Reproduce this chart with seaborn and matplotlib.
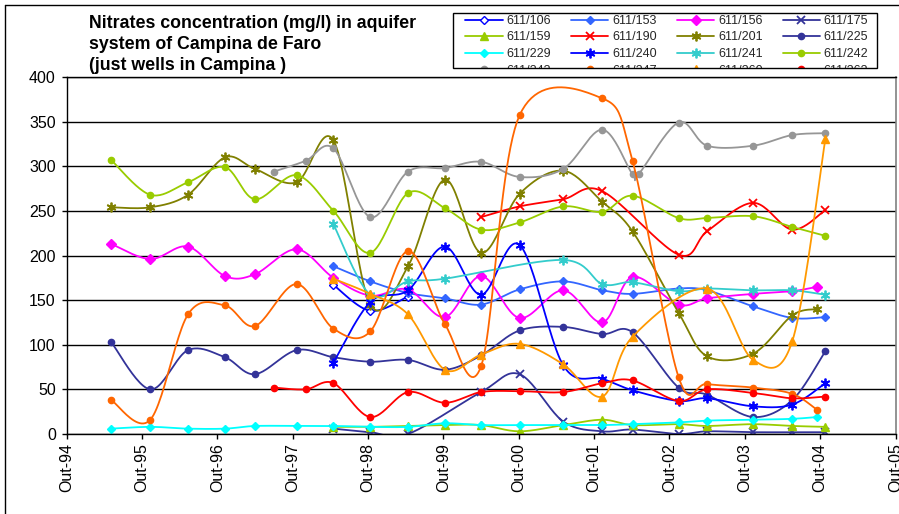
import numpy as np
import matplotlib
matplotlib.use("Agg")
import matplotlib.pyplot as plt
from matplotlib.patches import Rectangle
from matplotlib.lines import Line2D
import seaborn as sns

N = np.nan

# sampling campaigns (decimal years)
DATES = [1995.34, 1995.86, 1996.36, 1996.85, 1997.25, 1997.50, 1997.80, 1997.92,
         1998.29, 1998.78, 1999.28, 1999.77, 2000.25, 2000.76, 2001.34, 2001.86,
         2002.26, 2002.34, 2002.87, 2003.25, 2003.86, 2004.38, 2004.71, 2004.82]

WELLS = ["611/106", "611/153", "611/156", "611/175",
         "611/159", "611/190", "611/201", "611/225",
         "611/229", "611/240", "611/241", "611/242",
         "611/243", "611/247", "611/260", "611/263"]

#            0    1    2    3    4    5    6    7    8    9    10   11   12   13   14   15   16   17   18   19   20   21   22   23
V_106 = [N,   N,   N,   N,   N,   N,   N,   N,   167, 138, 154, N,   N,   N,   N,   N,   N,   N,   N,   N,   N,   N,   N,   N]
V_153 = [N,   N,   N,   N,   N,   N,   N,   N,   188, 171, 158, 152, 145, 162, 171, 161, 157, N,   163, 161, 143, 130, N,   131]
V_156 = [213, 196, 210, 177, 179, N,   207, N,   175, 155, 162, 131, 177, 130, 161, 125, 176, N,   145, 152, 157, 160, 165, N]
V_175 = [N,   N,   N,   N,   N,   N,   N,   N,   6,   2,   0,   N,   47,  67,  14,  3,   5,   N,   0,   3,   2,   2,   N,   2]
V_159 = [N,   N,   N,   N,   N,   N,   N,   N,   8,   8,   9,   10,  10,  3,   10,  16,  10,  N,   11,  9,   11,  9,   N,   8]
V_190 = [N,   N,   N,   N,   N,   N,   N,   N,   N,   N,   N,   N,   243, 255, 263, 272, N,   N,   201, 227, 259, 229, N,   251]
V_201 = [254, 254, 268, 310, 297, N,   282, N,   329, 145, 188, 285, 203, 269, 295, 260, 227, N,   136, 87,  90,  133, 140, N]
V_225 = [103, 50,  94,  86,  67,  N,   94,  N,   86,  81,  83,  72,  88,  116, 120, 112, 114, N,   52,  44,  19,  38,  N,   93]
V_229 = [6,   8,   6,   6,   9,   N,   9,   N,   9,   8,   8,   12,  10,  10,  10,  10,  11,  N,   13,  15,  16,  17,  19,  N]
V_240 = [N,   N,   N,   N,   N,   N,   N,   N,   80,  148, 161, 210, 156, 212, 77,  62,  49,  N,   37,  40,  31,  33,  N,   57]
V_241 = [N,   N,   N,   N,   N,   N,   N,   N,   235, 156, 171, 174, N,   N,   195, 168, 170, N,   160, 163, 161, 161, N,   156]
V_242 = [307, 268, 282, 299, 263, N,   290, N,   250, 203, 270, 253, 229, 237, 255, 249, 267, N,   242, 242, 244, 232, N,   222]
V_243 = [N,   N,   N,   N,   N,   294, N,   306, 320, 243, 294, 298, 305, 288, 297, 341, 291, 291, 349, 323, 323, 335, N,   337]
V_247 = [38,  16,  134, 144, 121, N,   168, N,   118, 115, 205, 123, 76,  357, N,   376, 306, N,   64,  56,  52,  45,  27,  N]
V_260 = [N,   N,   N,   N,   N,   N,   N,   N,   174, 157, 134, 72,  89,  101, 78,  42,  109, N,   N,   163, 83,  104, N,   331]
V_263 = [N,   N,   N,   N,   N,   52,  N,   50,  57,  19,  47,  35,  47,  48,  47,  57,  60,  N,   37,  50,  46,  40,  N,   42]

VALUES = [V_106, V_153, V_156, V_175, V_159, V_190, V_201, V_225,
          V_229, V_240, V_241, V_242, V_243, V_247, V_260, V_263]

Y_TICKS = [0, 50, 100, 150, 200, 250, 300, 350, 400]
X_TICK_LABELS = ["Out-94", "Out-95", "Out-96", "Out-97", "Out-98", "Out-99",
                 "Out-00", "Out-01", "Out-02", "Out-03", "Out-04", "Out-05"]
X_TICK_POS = [1994.75 + i for i in range(len(X_TICK_LABELS))]

TITLE_LINES = ["Nitrates concentration (mg/l) in aquifer",
               "system of Campina de Faro",
               "(just wells in Campina )"]

# styles (colour, marker, marker face, marker size)
AST = (6, 2, 0)
STYLES = [
    ("#0000FF", "D", "white", 4.5),
    ("#3366FF", "D", None, 4.5),
    ("#FF00FF", "D", None, 5),
    ("#333399", "x", None, 5.5),
    ("#99CC00", "^", None, 5.5),
    ("#FF0000", "x", None, 6),
    ("#808000", AST, None, 7),
    ("#333399", "o", None, 4.5),
    ("#00FFFF", "D", None, 4.5),
    ("#0000FF", AST, None, 7),
    ("#33CCCC", AST, None, 7),
    ("#99CC00", "o", None, 4.5),
    ("#969696", "o", None, 4.5),
    ("#FF6600", "o", None, 4.5),
    ("#FF9900", "^", None, 5.5),
    ("#FF0000", "o", None, 4.5),
]


def smooth(x, y, n=24):
    """Excel-like smoothed line (Bezier through points, Catmull-Rom tangents)."""
    P = np.column_stack([x, y]).astype(float)
    if len(P) < 2:
        return P[:, 0], P[:, 1]
    Q = np.vstack([P[0], P, P[-1]])
    t = np.linspace(0, 1, n, endpoint=False)[:, None]
    segs = []
    for i in range(1, len(Q) - 2):
        p0, p1, p2, p3 = Q[i - 1], Q[i], Q[i + 1], Q[i + 2]
        b1 = p1 + (p2 - p0) / 6.0
        b2 = p2 - (p3 - p1) / 6.0
        segs.append((1 - t) ** 3 * p1 + 3 * (1 - t) ** 2 * t * b1
                    + 3 * (1 - t) * t ** 2 * b2 + t ** 3 * p2)
    segs.append(P[-1][None, :])
    S = np.vstack(segs)
    return S[:, 0], S[:, 1]


sns.set_theme(style="white")
plt.rcParams["font.family"] = ["Liberation Sans", "DejaVu Sans"]

W, H = 899, 514
fig = plt.figure(figsize=(W / 100, H / 100), dpi=100)
fig.patch.set_facecolor("white")


def fx(px):
    return px / W


def fy(py):
    return 1 - py / H


ax = fig.add_axes([fx(66.7), fy(434), (895.5 - 66.7) / W, (434 - 77) / H])
ax.set_facecolor("white")

LW = 1.3
handles = []
dates = np.array(DATES)
for name, vals, (col, mk, mfc, ms) in zip(WELLS, VALUES, STYLES):
    v = np.array(vals, dtype=float)
    ok = ~np.isnan(v)
    xs, ys = smooth(dates[ok], v[ok])
    sns.lineplot(x=xs, y=ys, sort=False, estimator=None, color=col, lw=LW, ax=ax)
    mew = 1.3 if mk in ("x", AST) else 1.0
    ax.plot(dates[ok], v[ok], linestyle="none", marker=mk, ms=ms, color=col,
            mec=col, mfc=(mfc if mfc else col), mew=mew)
    handles.append(Line2D([], [], color=col, lw=LW, marker=mk, ms=ms, mec=col,
                          mfc=(mfc if mfc else col), mew=mew))

ax.set_xlim(X_TICK_POS[0], X_TICK_POS[-1])
ax.set_ylim(Y_TICKS[0], Y_TICKS[-1])
ax.set_yticks(Y_TICKS)
ax.set_xticks(X_TICK_POS)
ax.set_xticklabels(X_TICK_LABELS, rotation=90, ha="center", va="top")
ax.set_xlabel("")
ax.set_ylabel("")
ax.yaxis.grid(True, color="black", lw=1.0)
ax.xaxis.grid(False)
ax.set_axisbelow(True)
for side in ("left", "bottom", "top"):
    ax.spines[side].set_color("black")
    ax.spines[side].set_linewidth(1.0)
ax.spines["right"].set_color("#808080")
ax.spines["right"].set_linewidth(1.2)
ax.tick_params(axis="both", direction="out", length=3.8, width=1.0, color="black",
               labelsize=11.5, labelcolor="black")
ax.tick_params(axis="y", pad=4)
ax.tick_params(axis="x", pad=3)
ax.tick_params(left=True, bottom=True)

# title
for i, line in enumerate(TITLE_LINES):
    fig.text(fx(89), fy([23, 44.5, 65][i]), line, fontsize=12.8, fontweight="bold",
             ha="left", va="center", color="black")

# legend (row-major order, 4 columns, last row clipped by the box)
order = [r * 4 + c for c in range(4) for r in range(4)]
leg = fig.legend([handles[i] for i in order], [WELLS[i] for i in order], ncol=4,
                 loc="upper left", bbox_to_anchor=(fx(465), fy(15.0)),
                 frameon=False, fontsize=9, handlelength=3.0, handletextpad=0.3,
                 columnspacing=1.6, labelspacing=0.36, borderpad=0, borderaxespad=0)
leg.set_zorder(5)
fig.patches.append(Rectangle((fx(452), fy(76.3)), (880 - 452) / W, (76.3 - 68.3) / H,
                             transform=fig.transFigure, facecolor="white",
                             edgecolor="none", zorder=6))
fig.patches.append(Rectangle((fx(453), fy(67.7)), (877 - 453) / W, (67.7 - 12.7) / H,
                             transform=fig.transFigure, fill=False,
                             edgecolor="black", lw=1.0, zorder=7))

# outer chart frame (top and left visible)
fig.lines.append(Line2D([fx(5), 1], [fy(5), fy(5)], transform=fig.transFigure,
                        color="black", lw=1.0))
fig.lines.append(Line2D([fx(5), fx(5)], [fy(5), 0], transform=fig.transFigure,
                        color="black", lw=1.0))

fig.savefig("out.png", dpi=100, facecolor="white")
